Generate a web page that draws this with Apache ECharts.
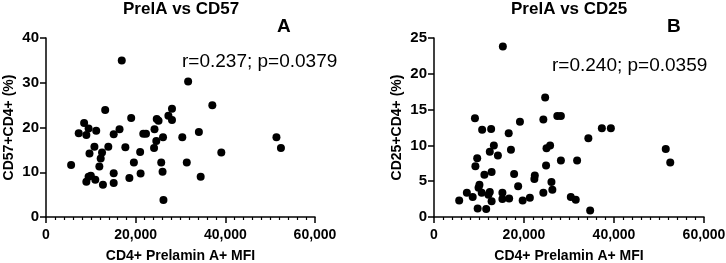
<!DOCTYPE html>
<html>
<head>
<meta charset="utf-8">
<script src="https://cdn.jsdelivr.net/npm/echarts@6/dist/echarts.min.js"></script>
<style>
  html, body { margin: 0; padding: 0; background: #fff; }
  #chart { width: 726px; height: 263px; }
</style>
</head>
<body>
<div id="chart"></div>
<script>
// Panel A: CD4+ prelamin A+ MFI (x, in thousands) vs CD57+CD4+ (%)
const cd57Mfi = [5.6, 7.3, 8.5, 9.0, 9.5, 11.2, 10.8, 9.7, 9.0, 9.5, 10.0, 11.0, 12.7, 11.9, 12.2, 12.5,
  13.2, 13.9, 15.1, 15.1, 15.1, 16.4, 16.9, 17.7, 18.6, 19.0, 19.6, 21.0, 21.1, 21.7, 22.3, 24.2,
  24.7, 25.1, 24.6, 24.1, 25.7, 26.0, 26.2, 26.1, 27.3, 28.1, 28.1, 30.4, 31.7, 31.4, 34.1, 34.5,
  37.1, 39.1, 51.4, 52.4]
const cd57Pct = [11.6, 18.7, 21.0, 18.3, 19.8, 19.3, 15.7, 14.2, 7.9, 9.0, 9.2, 8.3, 7.2, 11.3, 13.1, 14.4,
  23.9, 15.7, 18.5, 9.8, 7.6, 19.6, 35.0, 15.6, 8.7, 22.1, 12.2, 14.5, 9.7, 18.6, 18.6, 19.6,
  21.9, 21.5, 17.0, 15.4, 12.2, 10.1, 3.8, 17.8, 22.6, 24.2, 21.7, 17.8, 30.3, 12.2, 19.0, 9.0,
  25.0, 14.4, 17.8, 15.4]

// Panel B: CD4+ prelamin A+ MFI (thousands) vs CD25+CD4+ (%)
const cd25Mfi = [15.3, 24.7, 9.1, 10.7, 12.7, 19.1, 24.3, 27.4, 28.2, 16.6, 13.3, 17.1, 12.4, 14.2, 25.0, 25.8,
  9.6, 9.2, 24.9, 28.2, 11.2, 12.8, 17.8, 22.4, 22.3, 26.1, 10.1, 9.9, 18.7, 5.6, 7.3, 8.6,
  10.6, 12.4, 12.1, 12.8, 15.2, 15.2, 16.7, 19.7, 21.3, 24.3, 26.3, 9.7, 11.6, 37.3, 39.3, 34.3,
  31.8, 51.5, 52.5, 30.4, 31.5, 34.7]
const cd25Pct = [23.8, 16.7, 13.8, 12.2, 12.3, 13.3, 13.6, 14.1, 14.1, 11.7, 10.0, 9.4, 9.1, 8.6, 9.6, 10.0,
  8.2, 7.1, 7.2, 7.9, 5.9, 6.3, 6.0, 5.8, 5.3, 4.9, 4.5, 4.1, 4.3, 2.3, 3.4, 2.8,
  3.4, 3.5, 3.1, 2.2, 3.4, 2.5, 2.6, 2.3, 2.7, 3.4, 3.8, 1.2, 1.1, 12.4, 12.4, 11.0,
  7.9, 9.5, 7.6, 2.8, 2.4, 0.9]

const panels = [
  { title: 'PrelA vs CD57', tag: 'A', stat: 'r=0.237; p=0.0379', yName: 'CD57+CD4+ (%)', yMax: 40, yStep: 10, xs: cd57Mfi, ys: cd57Pct },
  { title: 'PrelA vs CD25', tag: 'B', stat: 'r=0.240; p=0.0359', yName: 'CD25+CD4+ (%)', yMax: 25, yStep: 5, xs: cd25Mfi, ys: cd25Pct }
]

const grids = [
  { left: 46, top: 38, width: 269, height: 179, outerBoundsMode: 'none' },
  { left: 434, top: 38, width: 270, height: 179, outerBoundsMode: 'none' }
]
const font = 'Liberation Sans, Arial, sans-serif'
const ink = '#000'
const lineStyle = { color: ink, width: 1.5 }

const chart = echarts.init(document.getElementById('chart'))
chart.setOption({
  animation: false,
  textStyle: { fontFamily: font },
  grid: grids,
  xAxis: panels.map((p, i) => ({
    type: 'value',
    gridIndex: i,
    min: 0,
    max: 60000,
    interval: 20000,
    name: 'CD4+ Prelamin A+ MFI',
    nameLocation: 'middle',
    nameGap: 32,
    nameTextStyle: { color: ink, fontWeight: 'bold', fontSize: 14, fontFamily: font },
    axisLine: { show: true, lineStyle },
    axisTick: { show: true, length: 6, lineStyle },
    minorTick: { show: true, splitNumber: 10, length: 3, lineStyle: { color: ink, width: 1.2 } },
    splitLine: { show: false },
    axisLabel: { color: ink, fontWeight: 'bold', fontSize: 14, margin: 11, formatter: v => v.toLocaleString('en-US') }
  })),
  yAxis: panels.map((p, i) => ({
    type: 'value',
    gridIndex: i,
    min: 0,
    max: p.yMax,
    interval: p.yStep,
    name: p.yName,
    nameLocation: 'middle',
    nameGap: 30,
    nameTextStyle: { color: ink, fontWeight: 'bold', fontSize: 14, fontFamily: font },
    axisLine: { show: true, lineStyle },
    axisTick: { show: true, length: 6, lineStyle },
    splitLine: { show: false },
    axisLabel: { color: ink, fontWeight: 'bold', fontSize: 15, margin: 7 }
  })),
  series: panels.map((p, i) => ({
    type: 'scatter',
    xAxisIndex: i,
    yAxisIndex: i,
    symbolSize: 8,
    itemStyle: { color: ink, opacity: 1 },
    data: p.xs.map((x, k) => [x * 1000, p.ys[k]])
  })),
  graphic: [
    { type: 'text', left: 123, top: 1, style: { text: panels[0].title, fill: ink, font: 'bold 17px ' + font } },
    { type: 'text', left: 277, top: 17, style: { text: panels[0].tag, fill: ink, font: 'bold 19px ' + font } },
    { type: 'text', left: 182, top: 52, style: { text: panels[0].stat, fill: ink, font: '19px ' + font } },
    { type: 'text', left: 511, top: 1, style: { text: panels[1].title, fill: ink, font: 'bold 17px ' + font } },
    { type: 'text', left: 667, top: 17, style: { text: panels[1].tag, fill: ink, font: 'bold 19px ' + font } },
    { type: 'text', left: 552, top: 56, style: { text: panels[1].stat, fill: ink, font: '19px ' + font } }
  ]
})
</script>
</body>
</html>
